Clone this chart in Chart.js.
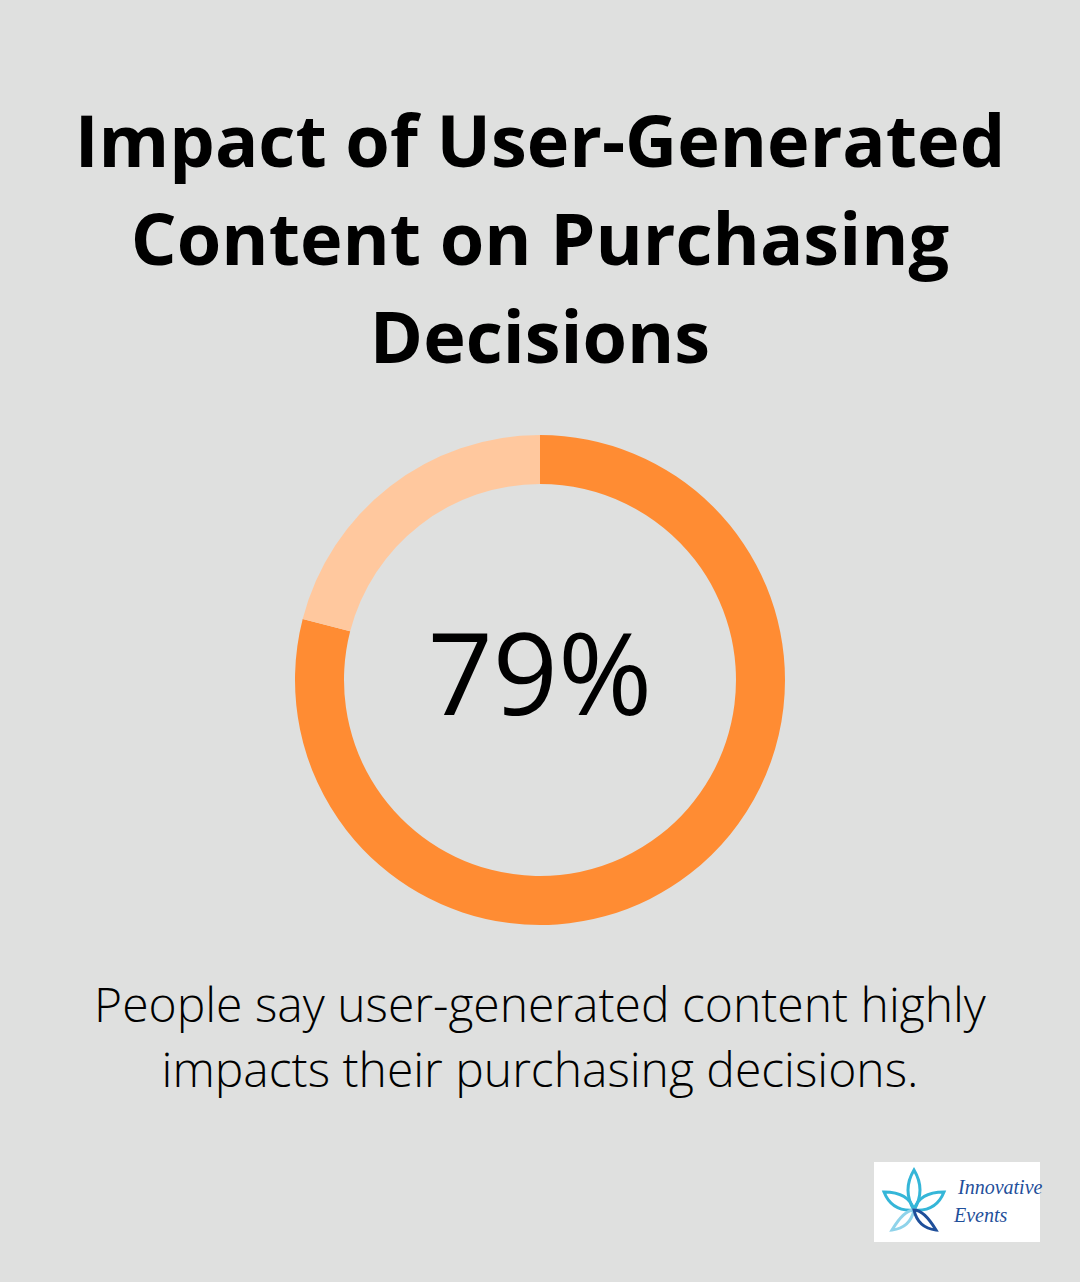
<!DOCTYPE html>
<html><head><meta charset="utf-8">
<script src="https://cdn.jsdelivr.net/npm/chart.js@4/dist/chart.umd.min.js"></script>
<style>
body{margin:0;width:1080px;height:1282px;background:#dfe0df;font-family:"Open Sans",sans-serif;position:relative;overflow:hidden}
#t{position:absolute;top:90px;left:0;width:1080px;text-align:center;font-weight:700;font-size:72px;line-height:98px;color:#000}
#c{position:absolute;left:290px;top:430px;width:500px;height:500px}
#v{position:absolute;left:290px;top:420px;width:500px;height:500px;display:flex;align-items:center;justify-content:center;font-size:114px;font-weight:500;color:#000}
#s{position:absolute;top:971px;left:0;width:1080px;text-align:center;font-weight:300;font-size:48px;line-height:65px;color:#000}
#logo{position:absolute;left:874px;top:1162px;width:166px;height:80px;background:#fff;font-family:cursive;font-style:italic;color:#1f4f9a;font-size:20px}
</style></head><body>
<div id="t">Impact of User-Generated<br>Content on Purchasing<br>Decisions</div>
<canvas id="c" width="500" height="500"></canvas>
<div id="v">79%</div>
<div id="s">People say user-generated content highly<br>impacts their purchasing decisions.</div>
<div id="logo"><svg width="80" height="80" style="position:absolute;left:0;top:0"><g fill="none" stroke="#35b6d8" stroke-width="3"><path d="M40 8 Q52 28 40 48 Q28 28 40 8Z"/><path d="M10 30 Q35 30 40 48 Q18 50 10 30Z"/><path d="M70 30 Q45 30 40 48 Q62 50 70 30Z"/><path d="M18 68 Q30 48 40 48 Q36 66 18 68Z" stroke="#8fd3ea"/><path d="M62 68 Q50 48 40 48 Q44 66 62 68Z" stroke="#1f4f9a"/></g></svg><span style="position:absolute;left:84px;top:14px">Innovative</span><span style="position:absolute;left:80px;top:42px">Events</span></div>
<script>
const labels=["Highly impacted","Other"];
const values=[79,21];
const colors=["#ff8c33","#ffc89e"];
new Chart(document.getElementById('c'),{type:'doughnut',
data:{labels:labels,datasets:[{data:values,backgroundColor:colors,borderWidth:0}]},
options:{responsive:false,animation:false,cutout:'80%',layout:{padding:5},plugins:{legend:{display:false},tooltip:{enabled:false}}}});
</script>
</body></html>
